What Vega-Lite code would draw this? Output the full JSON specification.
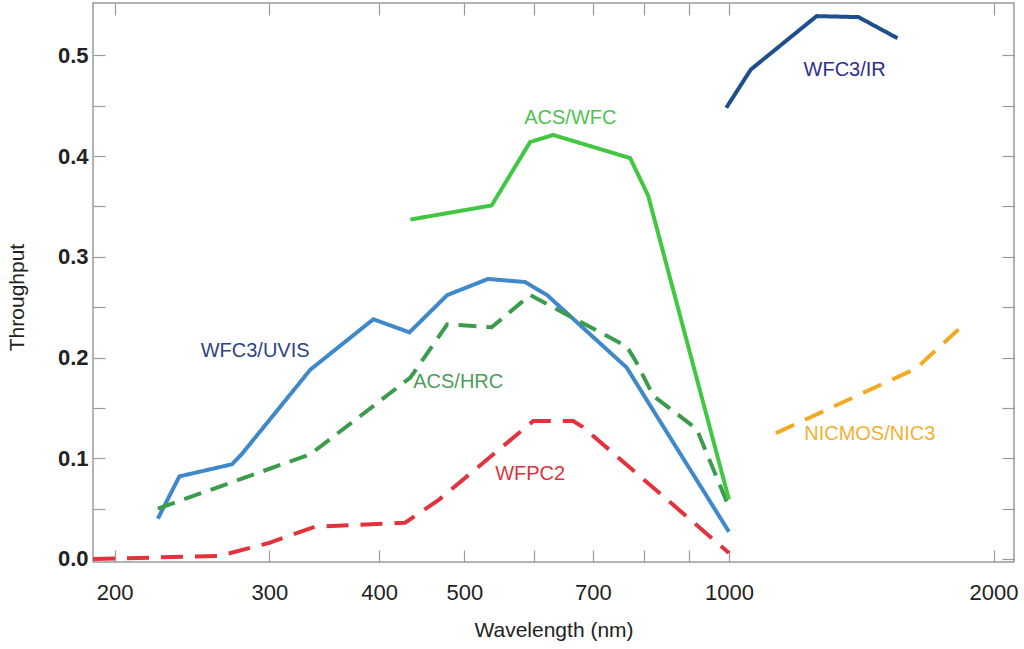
{
  "$schema": "https://vega.github.io/schema/vega-lite/v6.json",
  "autosize": {"type": "none"},
  "padding": {"left": 93, "top": 3, "right": 10, "bottom": 87},
  "width": 921,
  "height": 559,
  "background": "white",
  "config": {
    "view": {"stroke": "#9a9a9a", "strokeWidth": 1.5},
    "font": "Liberation Sans",
    "axis": {"domain": false, "grid": false, "tickColor": "#9a9a9a", "tickWidth": 1.2}
  },
  "datasets": {
    "curves": [
      {"series": "WFC3/UVIS", "wl": 224, "tp": 0.040},
      {"series": "WFC3/UVIS", "wl": 237, "tp": 0.082},
      {"series": "WFC3/UVIS", "wl": 272, "tp": 0.094},
      {"series": "WFC3/UVIS", "wl": 279, "tp": 0.104},
      {"series": "WFC3/UVIS", "wl": 334, "tp": 0.188},
      {"series": "WFC3/UVIS", "wl": 394, "tp": 0.238},
      {"series": "WFC3/UVIS", "wl": 433, "tp": 0.225},
      {"series": "WFC3/UVIS", "wl": 478, "tp": 0.262},
      {"series": "WFC3/UVIS", "wl": 532, "tp": 0.278},
      {"series": "WFC3/UVIS", "wl": 586, "tp": 0.275},
      {"series": "WFC3/UVIS", "wl": 621, "tp": 0.262},
      {"series": "WFC3/UVIS", "wl": 765, "tp": 0.190},
      {"series": "WFC3/UVIS", "wl": 806, "tp": 0.158},
      {"series": "WFC3/UVIS", "wl": 1000, "tp": 0.027},
      {"series": "ACS/HRC", "wl": 224, "tp": 0.050},
      {"series": "ACS/HRC", "wl": 334, "tp": 0.104},
      {"series": "ACS/HRC", "wl": 434, "tp": 0.180},
      {"series": "ACS/HRC", "wl": 478, "tp": 0.233},
      {"series": "ACS/HRC", "wl": 537, "tp": 0.230},
      {"series": "ACS/HRC", "wl": 594, "tp": 0.262},
      {"series": "ACS/HRC", "wl": 765, "tp": 0.211},
      {"series": "ACS/HRC", "wl": 785, "tp": 0.195},
      {"series": "ACS/HRC", "wl": 820, "tp": 0.162},
      {"series": "ACS/HRC", "wl": 919, "tp": 0.129},
      {"series": "ACS/HRC", "wl": 995, "tp": 0.056},
      {"series": "WFPC2", "wl": 189, "tp": 0.000},
      {"series": "WFPC2", "wl": 263, "tp": 0.003},
      {"series": "WFPC2", "wl": 300, "tp": 0.016},
      {"series": "WFPC2", "wl": 338, "tp": 0.032},
      {"series": "WFPC2", "wl": 428, "tp": 0.036},
      {"series": "WFPC2", "wl": 468, "tp": 0.059},
      {"series": "WFPC2", "wl": 599, "tp": 0.137},
      {"series": "WFPC2", "wl": 665, "tp": 0.137},
      {"series": "WFPC2", "wl": 682, "tp": 0.131},
      {"series": "WFPC2", "wl": 1000, "tp": 0.006},
      {"series": "ACS/WFC", "wl": 434, "tp": 0.337},
      {"series": "ACS/WFC", "wl": 537, "tp": 0.351},
      {"series": "ACS/WFC", "wl": 594, "tp": 0.414},
      {"series": "ACS/WFC", "wl": 631, "tp": 0.421},
      {"series": "ACS/WFC", "wl": 772, "tp": 0.398},
      {"series": "ACS/WFC", "wl": 809, "tp": 0.361},
      {"series": "ACS/WFC", "wl": 1000, "tp": 0.059},
      {"series": "WFC3/IR", "wl": 993, "tp": 0.448},
      {"series": "WFC3/IR", "wl": 1059, "tp": 0.486},
      {"series": "WFC3/IR", "wl": 1258, "tp": 0.539},
      {"series": "WFC3/IR", "wl": 1404, "tp": 0.538},
      {"series": "WFC3/IR", "wl": 1555, "tp": 0.517},
      {"series": "NICMOS/NIC3", "wl": 1131, "tp": 0.125},
      {"series": "NICMOS/NIC3", "wl": 1632, "tp": 0.189},
      {"series": "NICMOS/NIC3", "wl": 1830, "tp": 0.229}
    ],
    "labels": [
      {"name": "WFC3/UVIS", "wl": 289, "tp": 0.206},
      {"name": "ACS/HRC", "wl": 492, "tp": 0.176},
      {"name": "WFPC2", "wl": 594, "tp": 0.084},
      {"name": "ACS/WFC", "wl": 660, "tp": 0.438},
      {"name": "WFC3/IR", "wl": 1354, "tp": 0.485},
      {"name": "NICMOS/NIC3", "wl": 1446, "tp": 0.124}
    ]
  },
  "layer": [
    {
      "data": {"name": "curves"},
      "mark": {"type": "line", "strokeWidth": 4, "clip": true},
      "encoding": {
        "x": {
          "field": "wl", "type": "quantitative",
          "scale": {"type": "log", "domain": [189, 2110], "nice": false},
          "axis": {
            "title": "Wavelength (nm)",
            "orient": "bottom",
            "values": [200, 300, 400, 500, 600, 700, 800, 900, 1000, 2000],
            "labelExpr": "(datum.value == 600 || datum.value == 800 || datum.value == 900) ? '' : datum.label",
            "format": "d",
            "tickSize": -12,
            "labelPadding": 32,
            "labelFontSize": 22,
            "labelColor": "#222",
            "titleFontSize": 21,
            "titleFontWeight": "normal",
            "titleColor": "#222",
            "titlePadding": 16
          }
        },
        "y": {
          "field": "tp", "type": "quantitative",
          "scale": {"domain": [-0.003, 0.552], "nice": false, "zero": false},
          "axis": {
            "title": "Throughput",
            "orient": "left",
            "values": [0, 0.05, 0.1, 0.15, 0.2, 0.25, 0.3, 0.35, 0.4, 0.45, 0.5],
            "labelExpr": "(round(datum.value * 100) % 10 == 0) ? format(datum.value, '.1f') : ''",
            "tickSize": -12,
            "labelPadding": 17,
            "labelFontSize": 22,
            "labelFontWeight": "bold",
            "labelColor": "#222",
            "titleFontSize": 21,
            "titleFontWeight": "normal",
            "titleColor": "#222",
            "titlePadding": 30,
            "titleY": 294
          }
        },
        "color": {
          "field": "series", "type": "nominal", "legend": null,
          "scale": {
            "domain": ["WFC3/UVIS", "ACS/HRC", "WFPC2", "ACS/WFC", "WFC3/IR", "NICMOS/NIC3"],
            "range": ["#3f88c9", "#3c9c4c", "#e2323c", "#42c742", "#1e4f8c", "#f2aa22"]
          }
        },
        "strokeDash": {
          "field": "series", "type": "nominal", "legend": null,
          "scale": {
            "domain": ["WFC3/UVIS", "ACS/HRC", "WFPC2", "ACS/WFC", "WFC3/IR", "NICMOS/NIC3"],
            "range": [[1, 0], [18, 10], [22, 12], [1, 0], [1, 0], [20, 12]]
          }
        }
      }
    },
    {
      "data": {"name": "labels"},
      "mark": {"type": "text", "fontSize": 20, "align": "center", "baseline": "middle"},
      "encoding": {
        "x": {"field": "wl", "type": "quantitative", "axis": {"orient": "top", "values": [200, 300, 400, 500, 600, 700, 800, 900, 1000, 2000], "labels": false, "tickSize": -12, "title": null}},
        "y": {"field": "tp", "type": "quantitative", "axis": {"orient": "right", "values": [0, 0.05, 0.1, 0.15, 0.2, 0.25, 0.3, 0.35, 0.4, 0.45, 0.5], "labels": false, "tickSize": -12, "title": null}},
        "text": {"field": "name"},
        "color": {
          "field": "name", "type": "nominal", "legend": null,
          "scale": {
            "domain": ["WFC3/UVIS", "ACS/HRC", "WFPC2", "ACS/WFC", "WFC3/IR", "NICMOS/NIC3"],
            "range": ["#2b4584", "#4a9e5c", "#dc3440", "#4fc24f", "#2e2e8c", "#f0b232"]
          }
        }
      }
    }
  ],
  "resolve": {
    "scale": {"color": "independent"},
    "axis": {"x": "independent", "y": "independent"}
  }
}
